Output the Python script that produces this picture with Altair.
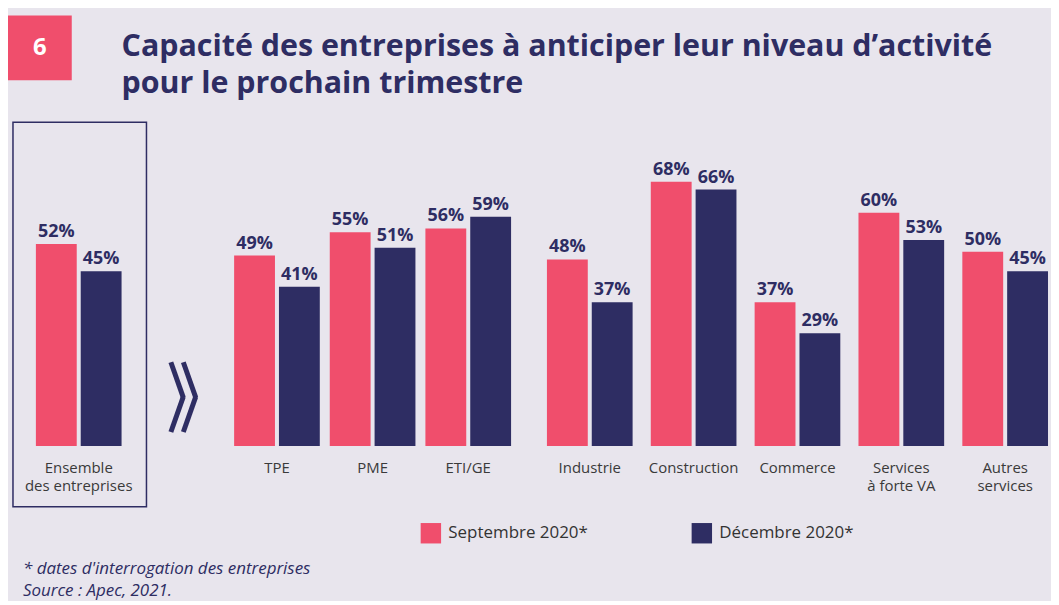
import altair as alt
import pandas as pd

# ---------------- data ----------------
categories = ["Ensemble|des entreprises", "TPE", "PME", "ETI/GE", "Industrie",
              "Construction", "Commerce", "Services|à forte VA", "Autres|services"]
panel_of = ["ensemble", "taille", "taille", "taille",
            "secteur", "secteur", "secteur", "secteur", "secteur"]
septembre = [52, 49, 55, 56, 48, 68, 37, 60, 50]
decembre = [45, 41, 51, 59, 37, 66, 29, 53, 45]
series = ["Septembre 2020*", "Décembre 2020*"]
series_colors = ["#F04E6C", "#2E2D63"]
title_lines = ["Capacité des entreprises à anticiper leur niveau d’activité",
               "pour le prochain trimestre"]
footnote_lines = ["* dates d'interrogation des entreprises", "Source : Apec, 2021."]
badge = "6"

NAVY = "#2E2D63"
PINK = "#F04E6C"
BG = "#E8E5ED"
FONT = "Open Sans"

rows = []
for cat, pan, s, d in zip(categories, panel_of, septembre, decembre):
    rows.append({"cat": cat, "panel": pan, "serie": series[0], "val": s})
    rows.append({"cat": cat, "panel": pan, "serie": series[1], "val": d})
df = pd.DataFrame(rows)
one = pd.DataFrame({"d": [0]})

Y_MAX = 75
H = 292.5

legend = alt.Legend(title=None, orient="none", legendX=392, legendY=369.5,
                    direction="horizontal", symbolType="square", symbolSize=420,
                    symbolStrokeWidth=0, symbolOpacity=1, labelFont=FONT,
                    labelFontSize=17, labelColor="#333333", labelOffset=7,
                    columnPadding=103, padding=0)


def panel(name, width, pi, po, align=0.5, extra=()):
    cats = [c for c, p in zip(categories, panel_of) if p == name]
    sub = df[df["panel"] == name]
    base = alt.Chart(sub).encode(
        x=alt.X("cat:N", sort=cats, title=None,
                scale=alt.Scale(paddingInner=pi, paddingOuter=po, align=align),
                axis=alt.Axis(labelExpr="split(datum.label, '|')", labelAngle=0,
                              domain=False, ticks=False, labelPadding=15,
                              labelFont=FONT, labelFontSize=15, labelColor="#3A3A3A",
                              labelLineHeight=18, labelBaseline="top", labelLimit=300)),
        xOffset=alt.XOffset("serie:N", sort=series,
                            scale=alt.Scale(paddingInner=0.089, paddingOuter=0)),
        y=alt.Y("val:Q", scale=alt.Scale(domain=[0, Y_MAX]), axis=None),
    )
    bars = base.mark_bar().encode(
        color=alt.Color("serie:N", sort=series,
                        scale=alt.Scale(domain=series, range=series_colors),
                        legend=legend))
    labels = base.transform_calculate(txt="datum.val + '%'").mark_text(
        baseline="alphabetic", dy=-7, font=FONT, fontSize=18, fontWeight="bold",
        color=NAVY).encode(text="txt:N")
    return alt.layer(bars, labels, *extra).properties(width=width, height=H)


# decorations, in panel-A coordinates
box = alt.Chart(one).mark_rect(color=PINK).encode(
    x=alt.value(-22), x2=alt.value(42), y=alt.value(-139.5), y2=alt.value(-74.5))
six = alt.Chart(one).mark_text(font=FONT, fontSize=24, fontWeight="bold", color="white",
                               align="center", baseline="middle").encode(
    x=alt.value(10), y=alt.value(-106.5), text=alt.value(badge))
title1 = alt.Chart(one).mark_text(align="left", baseline="alphabetic", font=FONT,
                                  fontSize=30.5, fontWeight="bold", color=NAVY).encode(
    x=alt.value(92), y=alt.value(-99), text=alt.value(title_lines[0]))
title2 = alt.Chart(one).mark_text(align="left", baseline="alphabetic", font=FONT,
                                  fontSize=30.5, fontWeight="bold", color=NAVY).encode(
    x=alt.value(92), y=alt.value(-61.5), text=alt.value(title_lines[1]))
frame = alt.Chart(one).mark_rect(fillOpacity=0, stroke=NAVY, strokeWidth=1.5).encode(
    x=alt.value(-17), x2=alt.value(117), y=alt.value(-32.5), y2=alt.value(353.5))
chev = []
for dx in (0, 12.5):
    chev.append(alt.Chart(one).mark_rule(color=NAVY, strokeWidth=5).encode(
        x=alt.value(141.5 + dx), y=alt.value(208.5),
        x2=alt.value(154 + dx), y2=alt.value(244)))
    chev.append(alt.Chart(one).mark_rule(color=NAVY, strokeWidth=5).encode(
        x=alt.value(154 + dx), y=alt.value(243),
        x2=alt.value(141.5 + dx), y2=alt.value(278.5)))
foot1 = alt.Chart(one).mark_text(align="left", baseline="alphabetic", font=FONT,
                                 fontSize=17, fontStyle="italic", color=NAVY).encode(
    x=alt.value(-7), y=alt.value(421), text=alt.value(footnote_lines[0]))
foot2 = alt.Chart(one).mark_text(align="left", baseline="alphabetic", font=FONT,
                                 fontSize=17, fontStyle="italic", color=NAVY).encode(
    x=alt.value(-7), y=alt.value(443.5), text=alt.value(footnote_lines[1]))

pA = panel("ensemble", 172, 0, 0.5, align=6 / 86,
           extra=[box, six, title1, title2, frame, *chev, foot1, foot2])
pB = panel("taille", 288, 0.1042, 0.052)
pC = panel("secteur", 509, 0.175, 0.0288)

chart = alt.hconcat(pA, pB, pC, spacing=28, bounds="flush").resolve_scale(
    color="shared"
).properties(
    background=BG,
    padding={"left": 0, "top": 6, "right": 0, "bottom": 0},
).configure_view(stroke=None)

chart.save("out.html", embed_options={"renderer": "svg", "actions": False})
